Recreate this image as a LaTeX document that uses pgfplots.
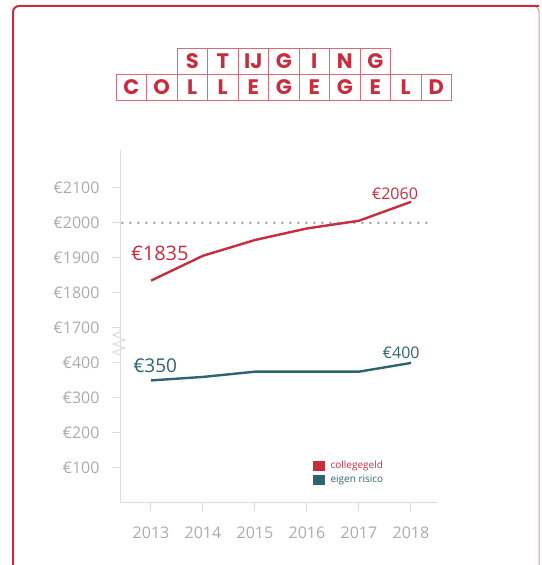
\documentclass[border=0pt]{standalone}
\usepackage{pgfplots}
\pgfplotsset{compat=1.18}
\usepackage{fontspec}
\setmainfont{Open Sans}
\newfontfamily\titlefont{Poppins}
\definecolor{cred}{HTML}{C62D3F}
\definecolor{cteal}{HTML}{2D6470}
\definecolor{tgray}{HTML}{ABABAB}
\definecolor{lgray}{HTML}{DCDCDC}
\definecolor{dgray}{HTML}{A0A0A0}
\begin{document}
\begin{tikzpicture}
\useasboundingbox (0,0) rectangle (541pt,565pt);
\clip (0,0) rectangle (541pt,565pt);
\begin{scope}[x=1pt,y=1pt]
% frame
\draw[cred!50, line width=1pt, rounded corners=6pt] (13,-20) rectangle (539,559);
\draw[cred, line width=2pt, rounded corners=6pt] (13,-20) -- (13,559) -- (539,559);
% title boxes
\foreach \l [count=\i from 0] in {S,T,IJ,G,I,N,G} {
  \draw[cred!70, line width=0.8pt] ({177+30.5*\i},491) rectangle ++(30.5,26);
  \node[text=cred, font=\titlefont\bfseries\fontsize{21}{21}\selectfont] at ({177+30.5*\i+15.25},504) {\l};
}
\foreach \l [count=\i from 0] in {C,O,L,L,E,G,E,G,E,L,D} {
  \draw[cred!70, line width=0.8pt] ({116+30.5*\i},465) rectangle ++(30.5,26);
  \node[text=cred, font=\titlefont\bfseries\fontsize{21}{21}\selectfont] at ({116+30.5*\i+15.25},478) {\l};
}
% axis break on the y axis line
\fill[white] (112,210) rectangle (128,236);
\draw[lgray, line width=1pt] (120,236) -- (120,233) -- (113,230) -- (125,225) -- (113,221)
  -- (125,217) -- (113,213) -- (120,210);
\end{scope}
\begin{axis}[
  at={(120pt,62pt)}, anchor=south west,
  scale only axis, width=317pt, height=353pt,
  xmin=2012.404, xmax=2018.5, ymin=0, ymax=1008,
  axis x line*=bottom, axis y line*=left,
  axis line style={draw=lgray, line width=1pt, -},
  xtick={2013,...,2018},
  xticklabels={2013,2014,2015,2016,2017,2018},
  ytick={100,200,...,900},
  yticklabels={€100,€200,€300,€400,€1700,€1800,€1900,€2000,€2100},
  tick align=outside, major tick length=8pt,
  tick style={draw=lgray, line width=1pt},
  ticklabel style={text=tgray, font=\fontsize{16}{16}\selectfont},
  xticklabel style={yshift=-12pt},
  yticklabel style={xshift=-9pt},
  clip=false,
  legend style={at={(rel axis cs:0.6,0.13)}, anchor=north west, draw=none, fill=none,
    font=\fontsize{10}{12}\selectfont, row sep=1pt},
  legend cell align=left,
  legend image code/.code={\fill (0pt,-3.5pt) rectangle (9pt,3.5pt);
    \path[draw=none] (0pt,0pt) -- (14pt,0pt);},
]
% dotted reference at 2000
\addplot[dgray, line width=2.8pt, line cap=round, dash pattern=on 0pt off 8pt, forget plot]
  coordinates {(2012.45,800) (2018.42,800)};
% collegegeld (upper section: value - 1200)
\addplot[cred, line width=2.4pt] coordinates {
  (2013,635) (2014,706) (2015,751) (2016,784) (2017,806) (2018,860)};
\addlegendentry{\textcolor{cred}{collegegeld}}
\addplot[cteal, line width=2.4pt] coordinates {
  (2013,350) (2014,360) (2015,375) (2016,375) (2017,375) (2018,400)};
\addlegendentry{\textcolor{cteal}{eigen risico}}
% value labels
\node[text=cred, font=\fontsize{20}{20}\selectfont] at (axis cs:2013.17,714) {€1835};
\node[text=cred, font=\fontsize{16}{16}\selectfont] at (axis cs:2017.69,883) {€2060};
\node[text=cteal, font=\fontsize{19}{19}\selectfont] at (axis cs:2013.08,391) {€350};
\node[text=cteal, font=\fontsize{16}{16}\selectfont] at (axis cs:2017.81,429) {€400};
\end{axis}
\end{tikzpicture}
\end{document}
